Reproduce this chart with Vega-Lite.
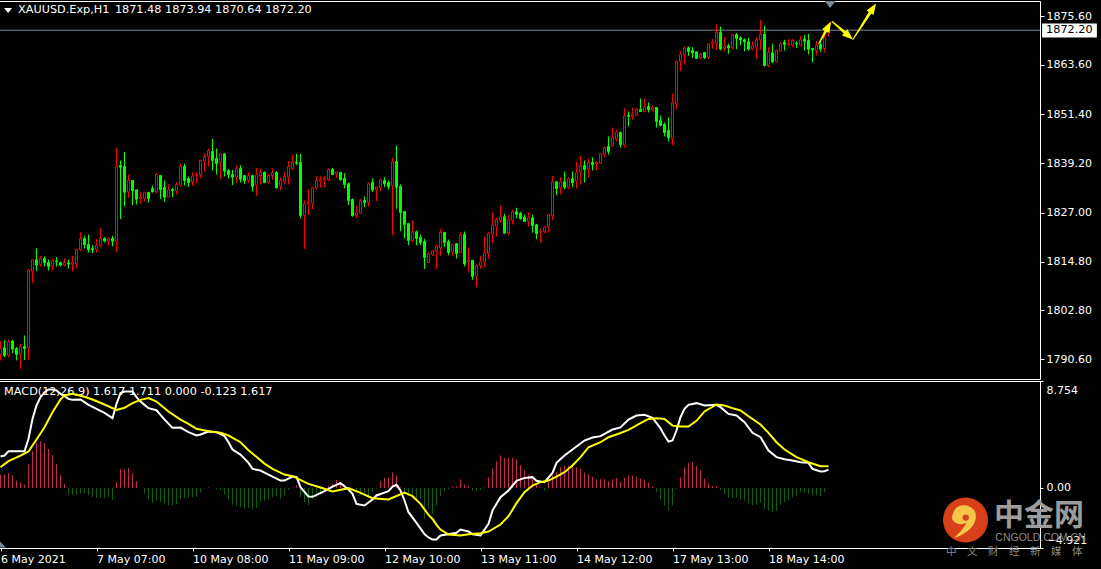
{"$schema":"https://vega.github.io/schema/vega-lite/v6.json","background":"#000000","padding":{"left":-4,"top":0,"right":0,"bottom":0},"spacing":2,"bounds":"flush","config":{"view":{"stroke":"#ffffff","strokeWidth":1},"axis":{"labelFont":"DejaVu Sans","labelFontSize":11,"labelColor":"#ffffff","tickColor":"#ffffff","domain":false,"grid":false,"title":null},"text":{"font":"DejaVu Sans","fontSize":11.25,"color":"#ffffff"}},
"datasets":{"bars":[
{"i":0,"o":1791.84,"h":1795.15,"l":1790.36,"c":1793.25,"m":1.09},
{"i":1,"o":1793.49,"h":1795.48,"l":1791.18,"c":1791.59,"m":1.09},
{"i":2,"o":1791.59,"h":1795.48,"l":1791.18,"c":1794.98,"m":1.2},
{"i":3,"o":1795.15,"h":1795.48,"l":1792.17,"c":1793.17,"m":1.04},
{"i":4,"o":1793.33,"h":1793.66,"l":1790.36,"c":1791.84,"m":0.6},
{"i":5,"o":1791.84,"h":1794.49,"l":1788.21,"c":1793.82,"m":0.44},
{"i":6,"o":1793.82,"h":1796.55,"l":1790.5,"c":1793.33,"m":0.27},
{"i":7,"o":1793.49,"h":1813.07,"l":1790.52,"c":1812.66,"m":1.91},
{"i":8,"o":1812.49,"h":1815.3,"l":1809.52,"c":1815.3,"m":3.0},
{"i":9,"o":1815.3,"h":1818.11,"l":1812.49,"c":1813.98,"m":3.69},
{"i":10,"o":1814.14,"h":1816.29,"l":1813.65,"c":1815.63,"m":3.82},
{"i":11,"o":1815.63,"h":1816.13,"l":1813.65,"c":1814.64,"m":3.66},
{"i":12,"o":1814.64,"h":1815.3,"l":1812.66,"c":1813.65,"m":3.17},
{"i":13,"o":1813.81,"h":1815.47,"l":1812.66,"c":1815.14,"m":2.68},
{"i":14,"o":1814.97,"h":1815.96,"l":1813.65,"c":1814.81,"m":1.97},
{"i":15,"o":1814.64,"h":1814.81,"l":1813.65,"c":1813.98,"m":1.04},
{"i":16,"o":1813.98,"h":1815.63,"l":1813.65,"c":1814.64,"m":0.33},
{"i":17,"o":1814.56,"h":1815.3,"l":1813.15,"c":1814.23,"m":-0.55},
{"i":18,"o":1814.23,"h":1816.29,"l":1812.49,"c":1814.64,"m":-0.6},
{"i":19,"o":1814.31,"h":1818.03,"l":1813.15,"c":1817.78,"m":-0.55},
{"i":20,"o":1817.78,"h":1822.07,"l":1817.45,"c":1820.5,"m":-0.44},
{"i":21,"o":1820.59,"h":1821.25,"l":1818.11,"c":1819.1,"m":-0.44},
{"i":22,"o":1819.1,"h":1821.58,"l":1817.12,"c":1817.78,"m":-0.6},
{"i":23,"o":1818.11,"h":1818.94,"l":1816.95,"c":1817.78,"m":-0.76},
{"i":24,"o":1817.78,"h":1820.42,"l":1817.12,"c":1818.94,"m":-0.82},
{"i":25,"o":1818.94,"h":1823.07,"l":1818.44,"c":1820.59,"m":-0.82},
{"i":26,"o":1820.59,"h":1820.92,"l":1819.6,"c":1819.93,"m":-0.82},
{"i":27,"o":1819.93,"h":1820.92,"l":1818.77,"c":1820.5,"m":-0.76},
{"i":28,"o":1820.59,"h":1821.25,"l":1818.6,"c":1819.93,"m":-0.98},
{"i":29,"o":1819.93,"h":1843.05,"l":1817.2,"c":1838.43,"m":0.44},
{"i":30,"o":1838.68,"h":1839.92,"l":1825.38,"c":1838.26,"m":1.53},
{"i":31,"o":1838.43,"h":1842.06,"l":1828.52,"c":1832.07,"m":1.53},
{"i":32,"o":1832.07,"h":1836.45,"l":1830.67,"c":1834.96,"m":1.64},
{"i":33,"o":1834.96,"h":1835.13,"l":1828.85,"c":1832.48,"m":1.2},
{"i":34,"o":1832.65,"h":1832.65,"l":1829.01,"c":1830.33,"m":0.55},
{"i":35,"o":1830.33,"h":1832.07,"l":1829.18,"c":1830.83,"m":0},
{"i":36,"o":1830.5,"h":1832.15,"l":1829.84,"c":1831.99,"m":-0.44},
{"i":37,"o":1831.99,"h":1832.15,"l":1829.51,"c":1830.5,"m":-0.93},
{"i":38,"o":1832.98,"h":1833.64,"l":1831.99,"c":1832.15,"m":-1.26},
{"i":39,"o":1832.07,"h":1836.78,"l":1831.82,"c":1836.45,"m":-1.04},
{"i":40,"o":1836.2,"h":1836.2,"l":1830.33,"c":1832.73,"m":-1.15},
{"i":41,"o":1833.22,"h":1834.96,"l":1829.67,"c":1830.83,"m":-1.31},
{"i":42,"o":1830.83,"h":1833.97,"l":1830.83,"c":1832.65,"m":-1.42},
{"i":43,"o":1832.73,"h":1833.14,"l":1830.83,"c":1832.48,"m":-1.42},
{"i":44,"o":1832.32,"h":1834.55,"l":1831.49,"c":1833.97,"m":-1.31},
{"i":45,"o":1833.8,"h":1839.09,"l":1833.47,"c":1838.43,"m":-0.93},
{"i":46,"o":1838.43,"h":1839.09,"l":1833.72,"c":1834.96,"m":-0.87},
{"i":47,"o":1835.46,"h":1835.95,"l":1833.31,"c":1834.46,"m":-0.82},
{"i":48,"o":1834.63,"h":1836.94,"l":1833.64,"c":1836.12,"m":-0.76},
{"i":49,"o":1836.12,"h":1837.11,"l":1834.3,"c":1836.45,"m":-0.71},
{"i":50,"o":1836.28,"h":1840.08,"l":1835.46,"c":1839.92,"m":-0.38},
{"i":51,"o":1839.75,"h":1841.73,"l":1837.11,"c":1840.91,"m":-0.05},
{"i":52,"o":1840.91,"h":1842.89,"l":1838.43,"c":1842.39,"m":0.05},
{"i":53,"o":1842.15,"h":1845.29,"l":1837.44,"c":1839.92,"m":0},
{"i":54,"o":1840.41,"h":1842.89,"l":1836.45,"c":1839.17,"m":-0.08},
{"i":55,"o":1839.26,"h":1841.57,"l":1835.29,"c":1841.57,"m":-0.19},
{"i":56,"o":1841.57,"h":1841.57,"l":1835.95,"c":1837.27,"m":-0.55},
{"i":57,"o":1837.44,"h":1837.77,"l":1835.46,"c":1836.45,"m":-0.93},
{"i":58,"o":1836.45,"h":1837.6,"l":1833.8,"c":1835.79,"m":-1.37},
{"i":59,"o":1835.79,"h":1838.59,"l":1834.3,"c":1837.93,"m":-1.47},
{"i":60,"o":1837.93,"h":1838.76,"l":1834.46,"c":1835.29,"m":-1.58},
{"i":61,"o":1836.2,"h":1836.2,"l":1834.13,"c":1834.96,"m":-1.69},
{"i":62,"o":1834.96,"h":1836.94,"l":1834.3,"c":1836.2,"m":-1.64},
{"i":63,"o":1836.2,"h":1836.2,"l":1832.23,"c":1833.47,"m":-1.75},
{"i":64,"o":1833.8,"h":1838.1,"l":1831.08,"c":1836.45,"m":-1.64},
{"i":65,"o":1836.12,"h":1837.93,"l":1833.97,"c":1836.94,"m":-1.15},
{"i":66,"o":1836.94,"h":1837.27,"l":1834.3,"c":1834.46,"m":-1.04},
{"i":67,"o":1834.55,"h":1836.61,"l":1834.13,"c":1836.2,"m":-0.93},
{"i":68,"o":1836.12,"h":1837.93,"l":1835.13,"c":1836.94,"m":-0.76},
{"i":69,"o":1836.94,"h":1837.27,"l":1832.98,"c":1833.14,"m":-0.66},
{"i":70,"o":1833.64,"h":1835.62,"l":1832.48,"c":1834.96,"m":-0.93},
{"i":71,"o":1834.79,"h":1837.11,"l":1834.13,"c":1835.95,"m":-0.6},
{"i":72,"o":1835.79,"h":1839.75,"l":1833.97,"c":1838.43,"m":-0.16},
{"i":73,"o":1837.93,"h":1841.4,"l":1837.6,"c":1839.42,"m":0.05},
{"i":74,"o":1839.42,"h":1841.57,"l":1838.76,"c":1839.26,"m":0.22},
{"i":75,"o":1839.42,"h":1841.57,"l":1825.54,"c":1826.29,"m":-0.76},
{"i":76,"o":1826.29,"h":1830.0,"l":1817.94,"c":1829.18,"m":-1.15},
{"i":77,"o":1829.1,"h":1832.81,"l":1826.37,"c":1829.51,"m":-1.42},
{"i":78,"o":1829.34,"h":1833.47,"l":1827.86,"c":1833.14,"m":-0.87},
{"i":79,"o":1833.14,"h":1835.95,"l":1832.65,"c":1834.96,"m":-0.76},
{"i":80,"o":1834.79,"h":1835.95,"l":1833.14,"c":1835.13,"m":-0.55},
{"i":81,"o":1835.04,"h":1836.12,"l":1833.31,"c":1835.46,"m":-0.16},
{"i":82,"o":1835.21,"h":1837.93,"l":1834.79,"c":1837.69,"m":0.16},
{"i":83,"o":1837.69,"h":1838.1,"l":1836.28,"c":1836.45,"m":0.33},
{"i":84,"o":1836.53,"h":1837.11,"l":1835.62,"c":1837.11,"m":0.66},
{"i":85,"o":1836.94,"h":1837.11,"l":1834.96,"c":1835.13,"m":0.49},
{"i":86,"o":1835.46,"h":1836.78,"l":1832.98,"c":1833.97,"m":0.27},
{"i":87,"o":1834.13,"h":1834.46,"l":1828.85,"c":1830.0,"m":0.05},
{"i":88,"o":1830.25,"h":1830.5,"l":1826.04,"c":1826.2,"m":-0.05},
{"i":89,"o":1826.29,"h":1828.68,"l":1825.63,"c":1826.95,"m":-0.33},
{"i":90,"o":1826.87,"h":1830.33,"l":1826.7,"c":1830.0,"m":-0.6},
{"i":91,"o":1830.0,"h":1830.99,"l":1828.35,"c":1829.51,"m":-0.66},
{"i":92,"o":1829.59,"h":1834.46,"l":1828.52,"c":1834.13,"m":-0.76},
{"i":93,"o":1834.46,"h":1835.46,"l":1832.15,"c":1832.65,"m":-0.33},
{"i":94,"o":1832.73,"h":1833.47,"l":1829.84,"c":1833.39,"m":-0.11},
{"i":95,"o":1833.14,"h":1835.29,"l":1832.32,"c":1835.13,"m":0.55},
{"i":96,"o":1834.96,"h":1835.79,"l":1833.31,"c":1834.13,"m":0.82},
{"i":97,"o":1834.46,"h":1834.96,"l":1832.65,"c":1833.47,"m":0.82},
{"i":98,"o":1833.64,"h":1840.58,"l":1821.41,"c":1839.59,"m":1.26},
{"i":99,"o":1839.67,"h":1843.63,"l":1827.86,"c":1833.31,"m":0.98},
{"i":100,"o":1833.47,"h":1833.97,"l":1822.4,"c":1827.03,"m":0.05},
{"i":101,"o":1827.28,"h":1827.28,"l":1820.59,"c":1824.06,"m":-0.38},
{"i":102,"o":1824.3,"h":1824.3,"l":1818.94,"c":1820.09,"m":-0.66},
{"i":103,"o":1820.09,"h":1825.05,"l":1819.76,"c":1822.24,"m":-0.6},
{"i":104,"o":1822.24,"h":1822.57,"l":1818.85,"c":1820.59,"m":-0.93},
{"i":105,"o":1820.84,"h":1821.58,"l":1818.94,"c":1819.6,"m":-0.87},
{"i":106,"o":1819.84,"h":1820.5,"l":1812.99,"c":1815.88,"m":-2.51},
{"i":107,"o":1814.64,"h":1817.12,"l":1814.48,"c":1816.79,"m":-1.75},
{"i":108,"o":1816.62,"h":1817.78,"l":1816.29,"c":1817.53,"m":-2.1},
{"i":109,"o":1817.45,"h":1819.1,"l":1812.99,"c":1818.6,"m":-1.47},
{"i":110,"o":1818.19,"h":1822.9,"l":1816.29,"c":1822.07,"m":-0.66},
{"i":111,"o":1822.07,"h":1822.24,"l":1818.44,"c":1819.6,"m":-0.27},
{"i":112,"o":1819.84,"h":1820.34,"l":1816.46,"c":1817.12,"m":-0.11},
{"i":113,"o":1817.2,"h":1819.27,"l":1816.29,"c":1819.02,"m":0.11},
{"i":114,"o":1819.35,"h":1819.35,"l":1815.63,"c":1816.87,"m":0.16},
{"i":115,"o":1817.12,"h":1822.07,"l":1816.95,"c":1821.5,"m":0.71},
{"i":116,"o":1821.58,"h":1822.32,"l":1813.65,"c":1814.31,"m":0.3},
{"i":117,"o":1814.72,"h":1818.44,"l":1812.33,"c":1815.05,"m":0.14},
{"i":118,"o":1815.14,"h":1815.3,"l":1810.35,"c":1811.17,"m":-0.22},
{"i":119,"o":1811.25,"h":1814.15,"l":1808.53,"c":1813.9,"m":-0.27},
{"i":120,"o":1813.9,"h":1816.29,"l":1813.07,"c":1814.81,"m":-0.16},
{"i":121,"o":1814.72,"h":1821.08,"l":1813.48,"c":1817.04,"m":0.05},
{"i":122,"o":1816.95,"h":1822.24,"l":1815.47,"c":1821.83,"m":0.87},
{"i":123,"o":1821.66,"h":1827.03,"l":1819.43,"c":1823.97,"m":1.58},
{"i":124,"o":1823.64,"h":1825.71,"l":1821.08,"c":1825.3,"m":2.18},
{"i":125,"o":1825.13,"h":1828.76,"l":1824.39,"c":1825.96,"m":2.68},
{"i":126,"o":1825.96,"h":1826.7,"l":1821.74,"c":1821.91,"m":2.46},
{"i":127,"o":1821.91,"h":1826.37,"l":1821.41,"c":1825.21,"m":2.46},
{"i":128,"o":1825.05,"h":1827.69,"l":1824.06,"c":1827.2,"m":2.46},
{"i":129,"o":1827.2,"h":1828.19,"l":1825.54,"c":1826.53,"m":2.29},
{"i":130,"o":1826.87,"h":1827.2,"l":1825.21,"c":1825.54,"m":1.86},
{"i":131,"o":1825.79,"h":1826.53,"l":1824.72,"c":1824.8,"m":1.47},
{"i":132,"o":1824.88,"h":1827.03,"l":1823.56,"c":1825.71,"m":1.09},
{"i":133,"o":1825.71,"h":1826.53,"l":1822.07,"c":1823.81,"m":0.71},
{"i":134,"o":1823.97,"h":1824.22,"l":1820.42,"c":1821.83,"m":0.27},
{"i":135,"o":1822.16,"h":1823.07,"l":1819.6,"c":1822.4,"m":0.05},
{"i":136,"o":1822.24,"h":1823.56,"l":1821.91,"c":1823.4,"m":-0.19},
{"i":137,"o":1823.4,"h":1826.7,"l":1822.07,"c":1826.53,"m":0.49},
{"i":138,"o":1826.29,"h":1836.12,"l":1825.05,"c":1834.63,"m":1.04},
{"i":139,"o":1834.63,"h":1834.63,"l":1831.33,"c":1832.98,"m":1.31},
{"i":140,"o":1833.14,"h":1835.79,"l":1831.49,"c":1834.63,"m":1.69},
{"i":141,"o":1834.63,"h":1837.19,"l":1832.81,"c":1833.31,"m":1.8},
{"i":142,"o":1833.31,"h":1835.79,"l":1832.98,"c":1835.37,"m":1.8},
{"i":143,"o":1835.37,"h":1837.19,"l":1833.31,"c":1834.46,"m":1.8},
{"i":144,"o":1834.79,"h":1839.67,"l":1832.98,"c":1836.86,"m":1.69},
{"i":145,"o":1837.02,"h":1841.15,"l":1833.97,"c":1838.59,"m":1.58},
{"i":146,"o":1838.68,"h":1839.91,"l":1834.46,"c":1837.68,"m":1.26},
{"i":147,"o":1837.77,"h":1840.33,"l":1835.7,"c":1839.42,"m":1.09},
{"i":148,"o":1839.42,"h":1840.66,"l":1837.44,"c":1838.92,"m":0.93},
{"i":149,"o":1839.09,"h":1839.75,"l":1837.44,"c":1839.42,"m":0.71},
{"i":150,"o":1839.25,"h":1841.57,"l":1839.09,"c":1841.57,"m":0.71},
{"i":151,"o":1841.48,"h":1843.38,"l":1840.74,"c":1843.05,"m":0.71},
{"i":152,"o":1843.38,"h":1845.86,"l":1841.4,"c":1842.14,"m":0.55},
{"i":153,"o":1843.47,"h":1848.09,"l":1843.38,"c":1845.53,"m":0.71},
{"i":154,"o":1845.2,"h":1847.51,"l":1844.72,"c":1847.02,"m":0.82},
{"i":155,"o":1846.85,"h":1847.1,"l":1843.14,"c":1843.88,"m":0.49},
{"i":156,"o":1843.71,"h":1852.8,"l":1843.14,"c":1850.98,"m":0.82},
{"i":157,"o":1851.06,"h":1852.06,"l":1848.34,"c":1850.82,"m":1.04},
{"i":158,"o":1850.9,"h":1853.05,"l":1850.07,"c":1851.31,"m":0.98},
{"i":159,"o":1851.15,"h":1852.96,"l":1850.98,"c":1852.55,"m":0.93},
{"i":160,"o":1852.55,"h":1855.28,"l":1852.06,"c":1852.06,"m":0.76},
{"i":161,"o":1852.06,"h":1855.28,"l":1851.81,"c":1853.21,"m":0.66},
{"i":162,"o":1853.3,"h":1854.29,"l":1851.81,"c":1852.55,"m":0.44},
{"i":163,"o":1852.47,"h":1853.54,"l":1852.06,"c":1852.96,"m":0.11},
{"i":164,"o":1853.05,"h":1853.05,"l":1848.09,"c":1849.58,"m":-0.38},
{"i":165,"o":1849.83,"h":1851.06,"l":1848.34,"c":1848.59,"m":-0.93},
{"i":166,"o":1848.83,"h":1849.33,"l":1845.86,"c":1846.85,"m":-1.47},
{"i":167,"o":1847.35,"h":1850.57,"l":1844.62,"c":1845.61,"m":-1.91},
{"i":168,"o":1845.45,"h":1856.52,"l":1843.63,"c":1854.2,"m":-1.42},
{"i":169,"o":1854.12,"h":1864.7,"l":1852.55,"c":1864.45,"m":-0.11},
{"i":170,"o":1864.37,"h":1867.01,"l":1862.06,"c":1866.19,"m":0.87},
{"i":171,"o":1866.02,"h":1868.17,"l":1863.71,"c":1867.84,"m":1.69},
{"i":172,"o":1867.84,"h":1868.17,"l":1865.86,"c":1866.93,"m":2.02},
{"i":173,"o":1867.18,"h":1868.01,"l":1865.36,"c":1866.6,"m":2.13},
{"i":174,"o":1866.85,"h":1866.85,"l":1865.2,"c":1865.2,"m":1.8},
{"i":175,"o":1865.36,"h":1866.52,"l":1865.03,"c":1866.35,"m":1.47},
{"i":176,"o":1866.68,"h":1866.85,"l":1865.03,"c":1865.36,"m":0.76},
{"i":177,"o":1865.53,"h":1868.83,"l":1865.03,"c":1868.83,"m":0.38},
{"i":178,"o":1868.83,"h":1869.99,"l":1867.59,"c":1869.25,"m":0.16},
{"i":179,"o":1869.0,"h":1873.62,"l":1867.35,"c":1871.64,"m":0.16},
{"i":180,"o":1871.64,"h":1873.13,"l":1867.18,"c":1867.59,"m":-0.16},
{"i":181,"o":1867.68,"h":1870.48,"l":1867.01,"c":1868.17,"m":-0.49},
{"i":182,"o":1868.34,"h":1868.83,"l":1866.35,"c":1867.84,"m":-0.82},
{"i":183,"o":1867.84,"h":1871.31,"l":1867.51,"c":1871.06,"m":-0.82},
{"i":184,"o":1871.14,"h":1871.48,"l":1867.51,"c":1870.15,"m":-0.76},
{"i":185,"o":1870.32,"h":1870.65,"l":1868.5,"c":1869.82,"m":-0.93},
{"i":186,"o":1869.82,"h":1870.15,"l":1867.01,"c":1869.33,"m":-1.04},
{"i":187,"o":1869.33,"h":1870.32,"l":1867.18,"c":1867.51,"m":-1.31},
{"i":188,"o":1867.51,"h":1869.49,"l":1867.18,"c":1868.34,"m":-1.42},
{"i":189,"o":1868.01,"h":1870.48,"l":1865.03,"c":1869.91,"m":-1.37},
{"i":190,"o":1869.82,"h":1874.78,"l":1867.35,"c":1871.14,"m":-1.2},
{"i":191,"o":1871.14,"h":1873.29,"l":1863.22,"c":1863.46,"m":-1.75},
{"i":192,"o":1863.38,"h":1868.01,"l":1863.05,"c":1866.77,"m":-1.86},
{"i":193,"o":1866.6,"h":1868.83,"l":1864.04,"c":1864.37,"m":-1.97},
{"i":194,"o":1864.37,"h":1867.35,"l":1864.21,"c":1867.18,"m":-1.86},
{"i":195,"o":1867.01,"h":1869.16,"l":1866.85,"c":1868.83,"m":-1.37},
{"i":196,"o":1869.16,"h":1869.82,"l":1867.18,"c":1868.67,"m":-1.15},
{"i":197,"o":1868.67,"h":1869.99,"l":1868.34,"c":1868.83,"m":-0.98},
{"i":198,"o":1868.5,"h":1869.99,"l":1868.01,"c":1869.66,"m":-0.76},
{"i":199,"o":1869.0,"h":1869.49,"l":1867.84,"c":1868.83,"m":-0.6},
{"i":200,"o":1868.5,"h":1870.81,"l":1868.17,"c":1869.82,"m":-0.33},
{"i":201,"o":1869.99,"h":1870.98,"l":1867.18,"c":1869.49,"m":-0.38},
{"i":202,"o":1869.66,"h":1871.31,"l":1866.19,"c":1867.51,"m":-0.49},
{"i":203,"o":1867.68,"h":1867.68,"l":1864.21,"c":1867.35,"m":-0.6},
{"i":204,"o":1867.18,"h":1869.49,"l":1865.94,"c":1868.5,"m":-0.6},
{"i":205,"o":1868.67,"h":1869.33,"l":1866.85,"c":1867.51,"m":-0.66},
{"i":206,"o":1867.68,"h":1871.64,"l":1866.68,"c":1870.48,"m":-0.33},
{"i":207,"o":1871.48,"h":1873.94,"l":1870.64,"c":1872.2,"m":-0.04}
],
"macd":[{"i":0,"v":2.57},{"i":1,"v":2.65},{"i":2,"v":3.0},{"i":6,"v":3.0},{"i":7,"v":4.02},{"i":8,"v":5.65},{"i":9,"v":6.75},{"i":10,"v":7.43},{"i":11,"v":7.84},{"i":12,"v":8.06},{"i":13,"v":8.06},{"i":14,"v":7.98},{"i":15,"v":7.7},{"i":16,"v":7.51},{"i":17,"v":7.29},{"i":18,"v":7.21},{"i":20,"v":7.24},{"i":21,"v":7.02},{"i":22,"v":6.8},{"i":24,"v":6.47},{"i":26,"v":6.15},{"i":28,"v":5.71},{"i":29,"v":6.88},{"i":30,"v":7.76},{"i":31,"v":7.89},{"i":33,"v":7.89},{"i":34,"v":7.43},{"i":35,"v":7.07},{"i":36,"v":6.8},{"i":37,"v":6.53},{"i":39,"v":6.36},{"i":40,"v":5.98},{"i":41,"v":5.6},{"i":43,"v":4.92},{"i":45,"v":4.94},{"i":47,"v":4.56},{"i":49,"v":4.29},{"i":50,"v":4.37},{"i":52,"v":4.62},{"i":54,"v":4.56},{"i":56,"v":4.24},{"i":57,"v":3.74},{"i":58,"v":3.14},{"i":60,"v":2.73},{"i":62,"v":2.05},{"i":63,"v":1.56},{"i":65,"v":1.42},{"i":67,"v":1.09},{"i":70,"v":0.6},{"i":71,"v":0.6},{"i":73,"v":0.93},{"i":74,"v":0.9},{"i":75,"v":0.06},{"i":77,"v":-0.71},{"i":78,"v":-0.73},{"i":81,"v":-0.27},{"i":83,"v":0.11},{"i":85,"v":0.39},{"i":86,"v":0.14},{"i":87,"v":-0.13},{"i":88,"v":-0.49},{"i":89,"v":-1.31},{"i":91,"v":-1.44},{"i":93,"v":-0.95},{"i":94,"v":-0.62},{"i":97,"v":-0.27},{"i":98,"v":0.11},{"i":99,"v":0.25},{"i":100,"v":-0.21},{"i":101,"v":-1.03},{"i":102,"v":-1.99},{"i":104,"v":-2.86},{"i":106,"v":-3.79},{"i":107,"v":-4.06},{"i":108,"v":-4.23},{"i":109,"v":-4.23},{"i":110,"v":-3.9},{"i":112,"v":-3.79},{"i":114,"v":-3.68},{"i":115,"v":-3.41},{"i":117,"v":-3.57},{"i":118,"v":-3.79},{"i":120,"v":-3.9},{"i":122,"v":-2.95},{"i":123,"v":-1.85},{"i":125,"v":-0.76},{"i":127,"v":-0.21},{"i":129,"v":0.58},{"i":131,"v":0.82},{"i":133,"v":0.88},{"i":134,"v":0.58},{"i":136,"v":0.47},{"i":138,"v":1.23},{"i":139,"v":2.05},{"i":141,"v":2.65},{"i":144,"v":3.39},{"i":146,"v":3.88},{"i":148,"v":4.13},{"i":150,"v":4.24},{"i":153,"v":4.78},{"i":155,"v":4.95},{"i":157,"v":5.6},{"i":159,"v":5.93},{"i":161,"v":5.98},{"i":163,"v":5.74},{"i":165,"v":4.89},{"i":166,"v":4.29},{"i":167,"v":3.8},{"i":168,"v":3.88},{"i":169,"v":4.7},{"i":170,"v":5.79},{"i":171,"v":6.47},{"i":172,"v":6.8},{"i":174,"v":6.94},{"i":176,"v":6.75},{"i":179,"v":6.8},{"i":180,"v":6.61},{"i":182,"v":6.06},{"i":184,"v":5.93},{"i":186,"v":5.38},{"i":188,"v":4.51},{"i":190,"v":4.15},{"i":192,"v":3.06},{"i":194,"v":2.52},{"i":196,"v":2.35},{"i":198,"v":2.24},{"i":200,"v":2.1},{"i":202,"v":2.05},{"i":203,"v":1.56},{"i":205,"v":1.34},{"i":206,"v":1.37},{"i":207,"v":1.5}],
"signal":[{"i":0,"v":1.7},{"i":2,"v":2.19},{"i":5,"v":2.65},{"i":7,"v":2.98},{"i":9,"v":3.96},{"i":11,"v":4.97},{"i":13,"v":6.2},{"i":15,"v":7.24},{"i":16,"v":7.57},{"i":18,"v":7.7},{"i":21,"v":7.46},{"i":23,"v":7.24},{"i":26,"v":6.83},{"i":29,"v":6.39},{"i":31,"v":6.56},{"i":33,"v":6.94},{"i":35,"v":7.21},{"i":37,"v":7.35},{"i":39,"v":7.07},{"i":42,"v":6.26},{"i":45,"v":5.6},{"i":47,"v":5.25},{"i":49,"v":4.84},{"i":52,"v":4.64},{"i":55,"v":4.51},{"i":57,"v":4.29},{"i":60,"v":3.74},{"i":62,"v":3.09},{"i":66,"v":1.99},{"i":68,"v":1.56},{"i":71,"v":1.09},{"i":73,"v":0.96},{"i":77,"v":0.33},{"i":80,"v":0.03},{"i":83,"v":-0.3},{"i":87,"v":-0.02},{"i":90,"v":-0.41},{"i":93,"v":-0.84},{"i":97,"v":-0.95},{"i":101,"v":-0.38},{"i":103,"v":-0.68},{"i":105,"v":-1.31},{"i":107,"v":-2.21},{"i":108,"v":-2.54},{"i":109,"v":-3.03},{"i":110,"v":-3.41},{"i":112,"v":-3.82},{"i":115,"v":-3.9},{"i":117,"v":-3.79},{"i":120,"v":-3.71},{"i":122,"v":-3.57},{"i":125,"v":-3.0},{"i":127,"v":-2.32},{"i":129,"v":-1.25},{"i":131,"v":-0.35},{"i":133,"v":0.19},{"i":135,"v":0.47},{"i":137,"v":0.6},{"i":139,"v":0.93},{"i":141,"v":1.29},{"i":143,"v":1.83},{"i":145,"v":2.52},{"i":147,"v":3.33},{"i":150,"v":3.74},{"i":152,"v":4.15},{"i":155,"v":4.5},{"i":157,"v":4.75},{"i":160,"v":5.3},{"i":162,"v":5.65},{"i":164,"v":5.71},{"i":166,"v":5.65},{"i":168,"v":5.1},{"i":170,"v":5.03},{"i":172,"v":5.03},{"i":174,"v":5.49},{"i":176,"v":6.26},{"i":179,"v":6.83},{"i":181,"v":6.75},{"i":183,"v":6.53},{"i":185,"v":6.34},{"i":187,"v":5.87},{"i":190,"v":5.19},{"i":192,"v":4.51},{"i":194,"v":3.74},{"i":196,"v":3.14},{"i":199,"v":2.52},{"i":202,"v":2.1},{"i":205,"v":1.78},{"i":207,"v":1.78}],
"arrows":[{"a":1,"n":0,"part":"tail","i":204.6,"p":1868.91},{"a":1,"n":1,"part":"neck","i":206.98,"p":1873.17},{"a":2,"n":0,"part":"tail","i":207.9,"p":1874.36},{"a":2,"n":1,"part":"neck","i":212.08,"p":1870.79},{"a":3,"n":0,"part":"tail","i":213.1,"p":1869.9},{"a":3,"n":1,"part":"neck","i":218.13,"p":1877.68}],
"heads":[{"i":206.98,"p":1873.17,"deg":28.6},{"i":212.08,"p":1870.79,"deg":130.6},{"i":218.13,"p":1877.68,"deg":32.6}]},
"vconcat":[
{"width":1041,"height":378,"data":{"name":"bars"},
"encoding":{"x":{"field":"i","type":"quantitative","scale":{"domain":[-0.375,259.875],"nice":false,"zero":false,"padding":0},"axis":null}},
"layer":[
{"data":{"values":[{"p":1872.2}]},"mark":{"type":"rule","color":"#778899","strokeWidth":1},"encoding":{"x":null,"y":{"field":"p","type":"quantitative","scale":{"domain":[1785.76,1879.44],"nice":false,"zero":false},"axis":{"orient":"right","values":[1875.6,1863.6,1851.4,1839.2,1827,1814.8,1802.8,1790.6],"format":".2f","tickSize":4,"labelPadding":2,"minExtent":60,"maxExtent":60,"labelOverlap":false}}}},
{"mark":{"type":"rule","strokeWidth":1},"encoding":{"y":{"field":"l","type":"quantitative"},"y2":{"field":"h"},"color":{"condition":{"test":"datum.c>=datum.o","value":"#ff0000"},"value":"#00ff00"}}},
{"mark":{"type":"bar","size":2,"strokeWidth":1,"orient":"vertical"},"encoding":{"y":{"field":"o","type":"quantitative"},"y2":{"field":"c"},"fill":{"condition":{"test":"datum.c>=datum.o","value":"#000000"},"value":"#00ff00"},"stroke":{"condition":{"test":"datum.c>=datum.o","value":"#ff0000"},"value":"#00ff00"}}},
{"data":{"name":"arrows"},"mark":{"type":"trail","color":"#ffff00","clip":false},"encoding":{"y":{"field":"p","type":"quantitative"},"detail":{"field":"a"},"order":{"field":"n"},"size":{"field":"part","type":"ordinal","legend":null,"scale":{"type":"ordinal","domain":["tail","neck"],"range":[1,3.5]}}}},
{"data":{"name":"heads"},"mark":{"type":"point","filled":true,"color":"#ffff00","shape":"M0,-1L0.75,1L-0.75,1Z","size":121,"opacity":1,"clip":false},"encoding":{"y":{"field":"p","type":"quantitative"},"angle":{"field":"deg","type":"quantitative","scale":null}}},
{"data":{"values":[{"i":207.4,"p":1878.57}]},"mark":{"type":"point","filled":true,"color":"#778899","shape":"M-1,-0.64L1,-0.64L0,0.64Z","size":121,"opacity":1,"clip":false},"encoding":{"y":{"field":"p","type":"quantitative"}}},
{"data":{"values":[{"i":1.9,"p":1877.09}]},"mark":{"type":"point","filled":true,"color":"#ffffff","shape":"M-1,-0.6L1,-0.6L0,0.6Z","size":64,"opacity":1},"encoding":{"y":{"field":"p","type":"quantitative"}}},
{"data":{"values":[{"i":4.4,"p":1877.09,"t":"XAUUSD.Exp,H1"},{"i":28.6,"p":1877.09,"t":"1871.48 1873.94 1870.64 1872.20"}]},"mark":{"type":"text","align":"left","baseline":"middle"},"encoding":{"y":{"field":"p","type":"quantitative"},"text":{"field":"t"}}},
{"data":{"values":[{"i":260.4,"i2":274.1,"p":1873.87,"p2":1870.4}]},"mark":{"type":"rect","fill":"#ffffff","clip":false},"encoding":{"x2":{"field":"i2"},"y":{"field":"p","type":"quantitative"},"y2":{"field":"p2"}}},
{"data":{"values":[{"i":261.4,"p":1872.2,"t":"1872.20"}]},"mark":{"type":"text","align":"left","baseline":"middle","color":"#000000","clip":false},"encoding":{"y":{"field":"p","type":"quantitative"},"text":{"field":"t"}}}
]},
{"width":1041,"height":167,
"encoding":{"x":{"field":"i","type":"quantitative","scale":{"domain":[-0.375,259.875],"nice":false,"zero":false,"padding":0},"axis":{"values":[0,24,48,72,96,120,144,168,192],"labelExpr":"{'0':'6 May 2021','24':'7 May 07:00','48':'10 May 08:00','72':'11 May 09:00','96':'12 May 10:00','120':'13 May 11:00','144':'14 May 12:00','168':'17 May 13:00','192':'18 May 14:00'}[datum.value]","labelAlign":"left","labelPadding":2,"tickSize":3,"labelOverlap":false,"labelBound":false,"labelFlush":false,"minExtent":22,"maxExtent":22}}},
"layer":[
{"data":{"name":"bars"},"mark":{"type":"rule","strokeWidth":1},"encoding":{"y":{"field":"m","type":"quantitative","scale":{"domain":[-4.921,8.754],"nice":false,"zero":false},"axis":{"orient":"right","values":[8.754,0,-4.921],"labelExpr":"datum.value===0?'0.00':format(datum.value,'.3f')","tickSize":3,"labelPadding":3,"labelFlush":true,"labelFlushOffset":-3,"minExtent":60,"maxExtent":60,"labelOverlap":false}},"y2":{"datum":0},"color":{"condition":{"test":"datum.m>=0","value":"#c8284c"},"value":"#0f5f0f"}}},
{"data":{"values":[{"i":0.9,"v":7.89,"t":"MACD(12,26,9) 1.617 1.711 0.000 -0.123 1.617"}]},"mark":{"type":"text","align":"left","baseline":"middle"},"encoding":{"y":{"field":"v","type":"quantitative"},"text":{"field":"t"}}},
{"data":{"name":"macd"},"mark":{"type":"line","color":"#ffffff","strokeWidth":2,"interpolate":"linear"},"encoding":{"y":{"field":"v","type":"quantitative"}}},
{"data":{"name":"signal"},"mark":{"type":"line","color":"#ffff00","strokeWidth":2,"interpolate":"linear"},"encoding":{"y":{"field":"v","type":"quantitative"}}},
{"data":{"values":[{"i":0.5,"v":-4.59}]},"mark":{"type":"point","filled":true,"color":"#778899","shape":"M-1,-1L1,1L-1,1Z","size":49,"opacity":1,"clip":false},"encoding":{"y":{"field":"v","type":"quantitative"}}},
{"data":{"values":[{"i":241.25,"v":-2.63}]},"mark":{"type":"point","filled":true,"color":"#d8401a","shape":"circle","size":2025,"opacity":1,"clip":false},"encoding":{"y":{"field":"v","type":"quantitative"}}},
{"data":{"values":[{"i":240.9,"v":-2.63}]},"mark":{"type":"point","filled":true,"color":"#f5c64a","shape":"M-0.5,-0.45C-0.35,-0.85 0.35,-0.85 0.55,-0.4C0.7,0 0.4,0.4 0.1,0.6C-0.1,0.75 -0.3,0.85 -0.5,0.9C-0.2,0.6 0,0.4 0.1,0.15C-0.2,0.3 -0.65,0.15 -0.6,-0.2Z","size":1600,"opacity":1,"clip":false},"encoding":{"y":{"field":"v","type":"quantitative"}}},
{"data":{"values":[{"i":241.3,"v":-2.43}]},"mark":{"type":"point","filled":true,"color":"#d8401a","shape":"circle","size":40,"opacity":1,"clip":false},"encoding":{"y":{"field":"v","type":"quantitative"}}},
{"data":{"values":[{"i":248.4,"v":-2.34,"t":"中金网"}]},"mark":{"type":"text","align":"left","baseline":"middle","font":"Noto Sans CJK SC","fontWeight":"bold","fontSize":30,"color":"#9c9c9c","clip":false},"encoding":{"y":{"field":"v","type":"quantitative"},"text":{"field":"t"}}},
{"data":{"values":[{"i":248.7,"v":-4.09,"t":"CNGOLD.COM.CN"}]},"mark":{"type":"text","align":"left","baseline":"middle","font":"Liberation Sans","fontSize":10.5,"color":"#8c8c8c","clip":false},"encoding":{"y":{"field":"v","type":"quantitative"},"text":{"field":"t"}}},
{"data":{"values":[{"i":236.4,"v":-5.21,"t":"中　文　财　经　新　媒　体"}]},"mark":{"type":"text","align":"left","baseline":"middle","font":"Noto Sans CJK SC","fontSize":10.5,"color":"#8c8c8c","clip":false},"encoding":{"y":{"field":"v","type":"quantitative"},"text":{"field":"t"}}}
]}
]}
